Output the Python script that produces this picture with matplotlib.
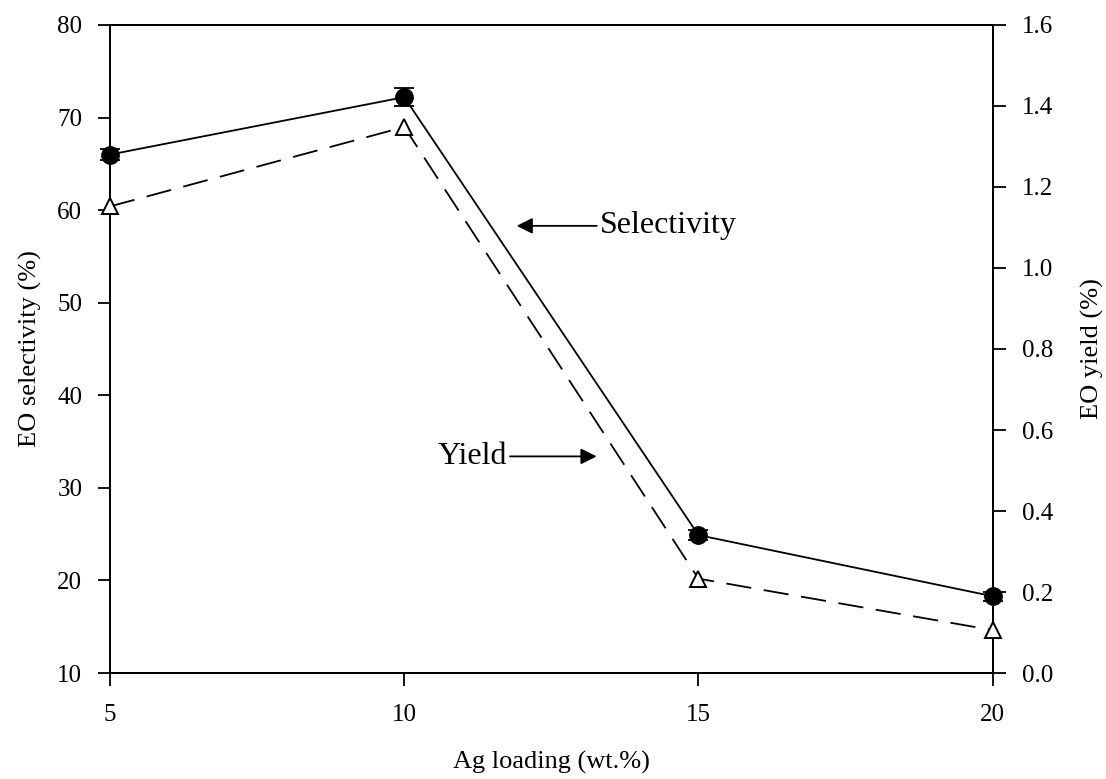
import matplotlib.pyplot as plt

plt.rcParams['font.family'] = ['Liberation Serif', 'DejaVu Serif']

# data
ag_loading = [5, 10, 15, 20]
selectivity = [66.0, 72.2, 24.9, 18.3]
selectivity_err = [0.6, 1.0, 0.5, 0.5]
eo_yield = [1.152, 1.348, 0.233, 0.106]
x_ticks = [5, 10, 15, 20]
left_ticks = [10, 20, 30, 40, 50, 60, 70, 80]
right_ticks = [0.0, 0.2, 0.4, 0.6, 0.8, 1.0, 1.2, 1.4, 1.6]

fig = plt.figure(figsize=(11.06, 7.79), dpi=100)
ax = fig.add_axes([0.0995, 0.136, 0.798, 0.832])
ax2 = ax.twinx()

ax.errorbar(ag_loading, selectivity, yerr=selectivity_err, color='black', lw=1.3,
            marker='o', markersize=12.5, markerfacecolor='black', capsize=7.5,
            elinewidth=1.3, capthick=1.3, zorder=3, clip_on=False)
ax2.plot(ag_loading, eo_yield, color='black', lw=1.3, linestyle=(0, (14, 7)),
         marker='^', markersize=12, markerfacecolor='white', markeredgewidth=1.4,
         zorder=3, clip_on=False)

ax.set_xlim(5, 20)
ax.set_ylim(10, 80)
ax2.set_ylim(0, 1.6)
ax.set_xticks(x_ticks)
ax.set_yticks(left_ticks)
ax2.set_yticks(right_ticks)
ax2.set_yticklabels(['%.1f' % v for v in right_ticks])

ax.tick_params(axis='x', direction='out', length=9, width=1.3, pad=13, labelsize=18)
ax.tick_params(axis='y', direction='out', length=9, width=1.3, pad=11, labelsize=18)
ax2.tick_params(axis='y', direction='out', length=9, width=1.3, pad=12, labelsize=18)
for a in (ax, ax2):
    for s in a.spines.values():
        s.set_linewidth(1.3)

ax.set_xlabel('Ag loading (wt.%)', fontsize=19, labelpad=18)
ax.set_ylabel('EO selectivity (%)', fontsize=19, labelpad=11)
ax2.set_ylabel('EO yield (%)', fontsize=19, labelpad=20)

ax.annotate('Selectivity', xy=(11.91, 58.3), xytext=(13.32, 58.3), fontsize=23,
            va='center', ha='left',
            arrowprops=dict(arrowstyle='-|>', color='black', lw=1.3, mutation_scale=24,
                            shrinkA=0, shrinkB=0))
ax.annotate('Yield', xy=(13.27, 33.4), xytext=(11.75, 33.4), fontsize=23,
            va='center', ha='right',
            arrowprops=dict(arrowstyle='-|>', color='black', lw=1.3, mutation_scale=24,
                            shrinkA=0, shrinkB=0))

plt.savefig('out.png', dpi=100)
